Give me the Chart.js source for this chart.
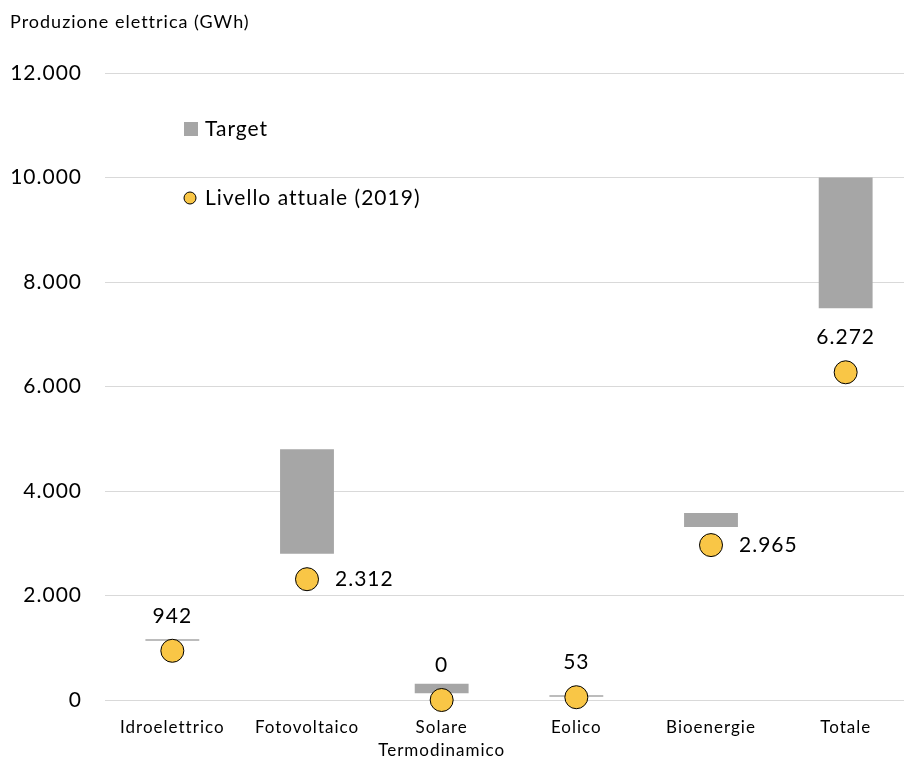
<!DOCTYPE html>
<html>
<head>
<meta charset="utf-8">
<script src="https://cdn.jsdelivr.net/npm/chart.js@4.4.0/dist/chart.umd.min.js"></script>
<style>
  html, body { margin: 0; padding: 0; background: #fff; overflow: hidden; }
  #mixedChart { display: block; }
</style>
</head>
<body>
<canvas id="mixedChart" width="913" height="758"></canvas>
<script>
// categories and values (GWh)
var categories = ['Idroelettrico', 'Fotovoltaico', ['Solare', 'Termodinamico'], 'Eolico', 'Bioenergie', 'Totale'];
var targetMin = [1135, 2800, 130, 60, 3310, 7500];
var targetMax = [1165, 4800, 310, 90, 3580, 10000];
var current = [942, 2312, 0, 53, 2965, 6272];
var yTicks = [0, 2000, 4000, 6000, 8000, 10000, 12000];

// where each value label goes
var labelPos = ['above', 'right', 'above', 'above', 'right', 'above'];

var grey = '#A6A6A6';
var yellow = '#F9C646';
var font = 'Lato, "Open Sans", sans-serif';

function itNum(v) {
  return String(v).replace(/\B(?=(\d{3})+(?!\d))/g, '.');
}

var targetData = targetMin.map(function (lo, i) { return [lo, targetMax[i]]; });

// wider spacing, like the original office rendering
var spacing = {
  id: 'spacing',
  beforeDraw: function (chart) { chart.ctx.letterSpacing = '1px'; }
};

// title, in-plot legend and value labels
var extras = {
  id: 'extras',
  afterDatasetsDraw: function (chart) {
    var ctx = chart.ctx;
    ctx.save();
    ctx.letterSpacing = '1px';
    ctx.fillStyle = '#000';
    ctx.textBaseline = 'middle';

    ctx.font = '18px ' + font;
    ctx.textAlign = 'left';
    ctx.fillText('Produzione elettrica (GWh)', 10, 22);

    // legend
    ctx.font = '21px ' + font;
    ctx.fillStyle = grey;
    ctx.fillRect(184, 122, 14, 14);
    ctx.fillStyle = '#000';
    ctx.fillText('Target', 205, 129);
    ctx.beginPath();
    ctx.arc(190, 198, 6, 0, Math.PI * 2);
    ctx.fillStyle = yellow;
    ctx.fill();
    ctx.lineWidth = 1;
    ctx.strokeStyle = '#000';
    ctx.stroke();
    ctx.fillStyle = '#000';
    ctx.fillText('Livello attuale (2019)', 205, 198);

    // value labels
    var meta = chart.getDatasetMeta(1);
    meta.data.forEach(function (pt, i) {
      var txt = itNum(current[i]);
      if (labelPos[i] === 'right') {
        ctx.textAlign = 'left';
        ctx.fillText(txt, pt.x + 28, pt.y);
      } else {
        ctx.textAlign = 'center';
        ctx.fillText(txt, pt.x, pt.y - 35);
      }
    });
    ctx.restore();
  }
};

var ctx = document.getElementById('mixedChart').getContext('2d');
var myChart = new Chart(ctx, {
  type: 'bar',
  data: {
    labels: categories,
    datasets: [{
      label: 'Target',
      data: targetData,
      backgroundColor: grey,
      borderWidth: 0,
      categoryPercentage: 1,
      barPercentage: 0.4,
      order: 2
    },
    {
      label: 'Livello attuale (2019)',
      type: 'line',
      data: current,
      showLine: false,
      pointRadius: 11.5,
      pointBackgroundColor: yellow,
      pointBorderColor: '#000',
      pointBorderWidth: 1,
      clip: false,
      order: 1
    }]
  },
  options: {
    responsive: false,
    animation: false,
    layout: { autoPadding: false, padding: { top: 73, left: 0, right: 0, bottom: 0 } },
    plugins: {
      legend: { display: false },
      tooltip: { enabled: false }
    },
    scales: {
      x: {
        grid: { display: false, drawTicks: false },
        border: { display: false },
        ticks: {
          color: '#000',
          padding: 16,
          font: { family: font, size: 17, lineHeight: 1.35 }
        },
        afterFit: function (scale) { scale.height = 58; }
      },
      y: {
        min: 0,
        max: 12000,
        afterBuildTicks: function (scale) {
          scale.ticks = yTicks.map(function (v) { return { value: v }; });
        },
        grid: { color: '#D9D9D9', lineWidth: 1, drawTicks: false },
        border: { display: false },
        ticks: {
          color: '#000',
          padding: 23,
          font: { family: font, size: 21 },
          callback: function (v) { return itNum(v); }
        },
        afterFit: function (scale) { scale.width = 105; }
      }
    }
  },
  plugins: [spacing, extras]
});
</script>
</body>
</html>
